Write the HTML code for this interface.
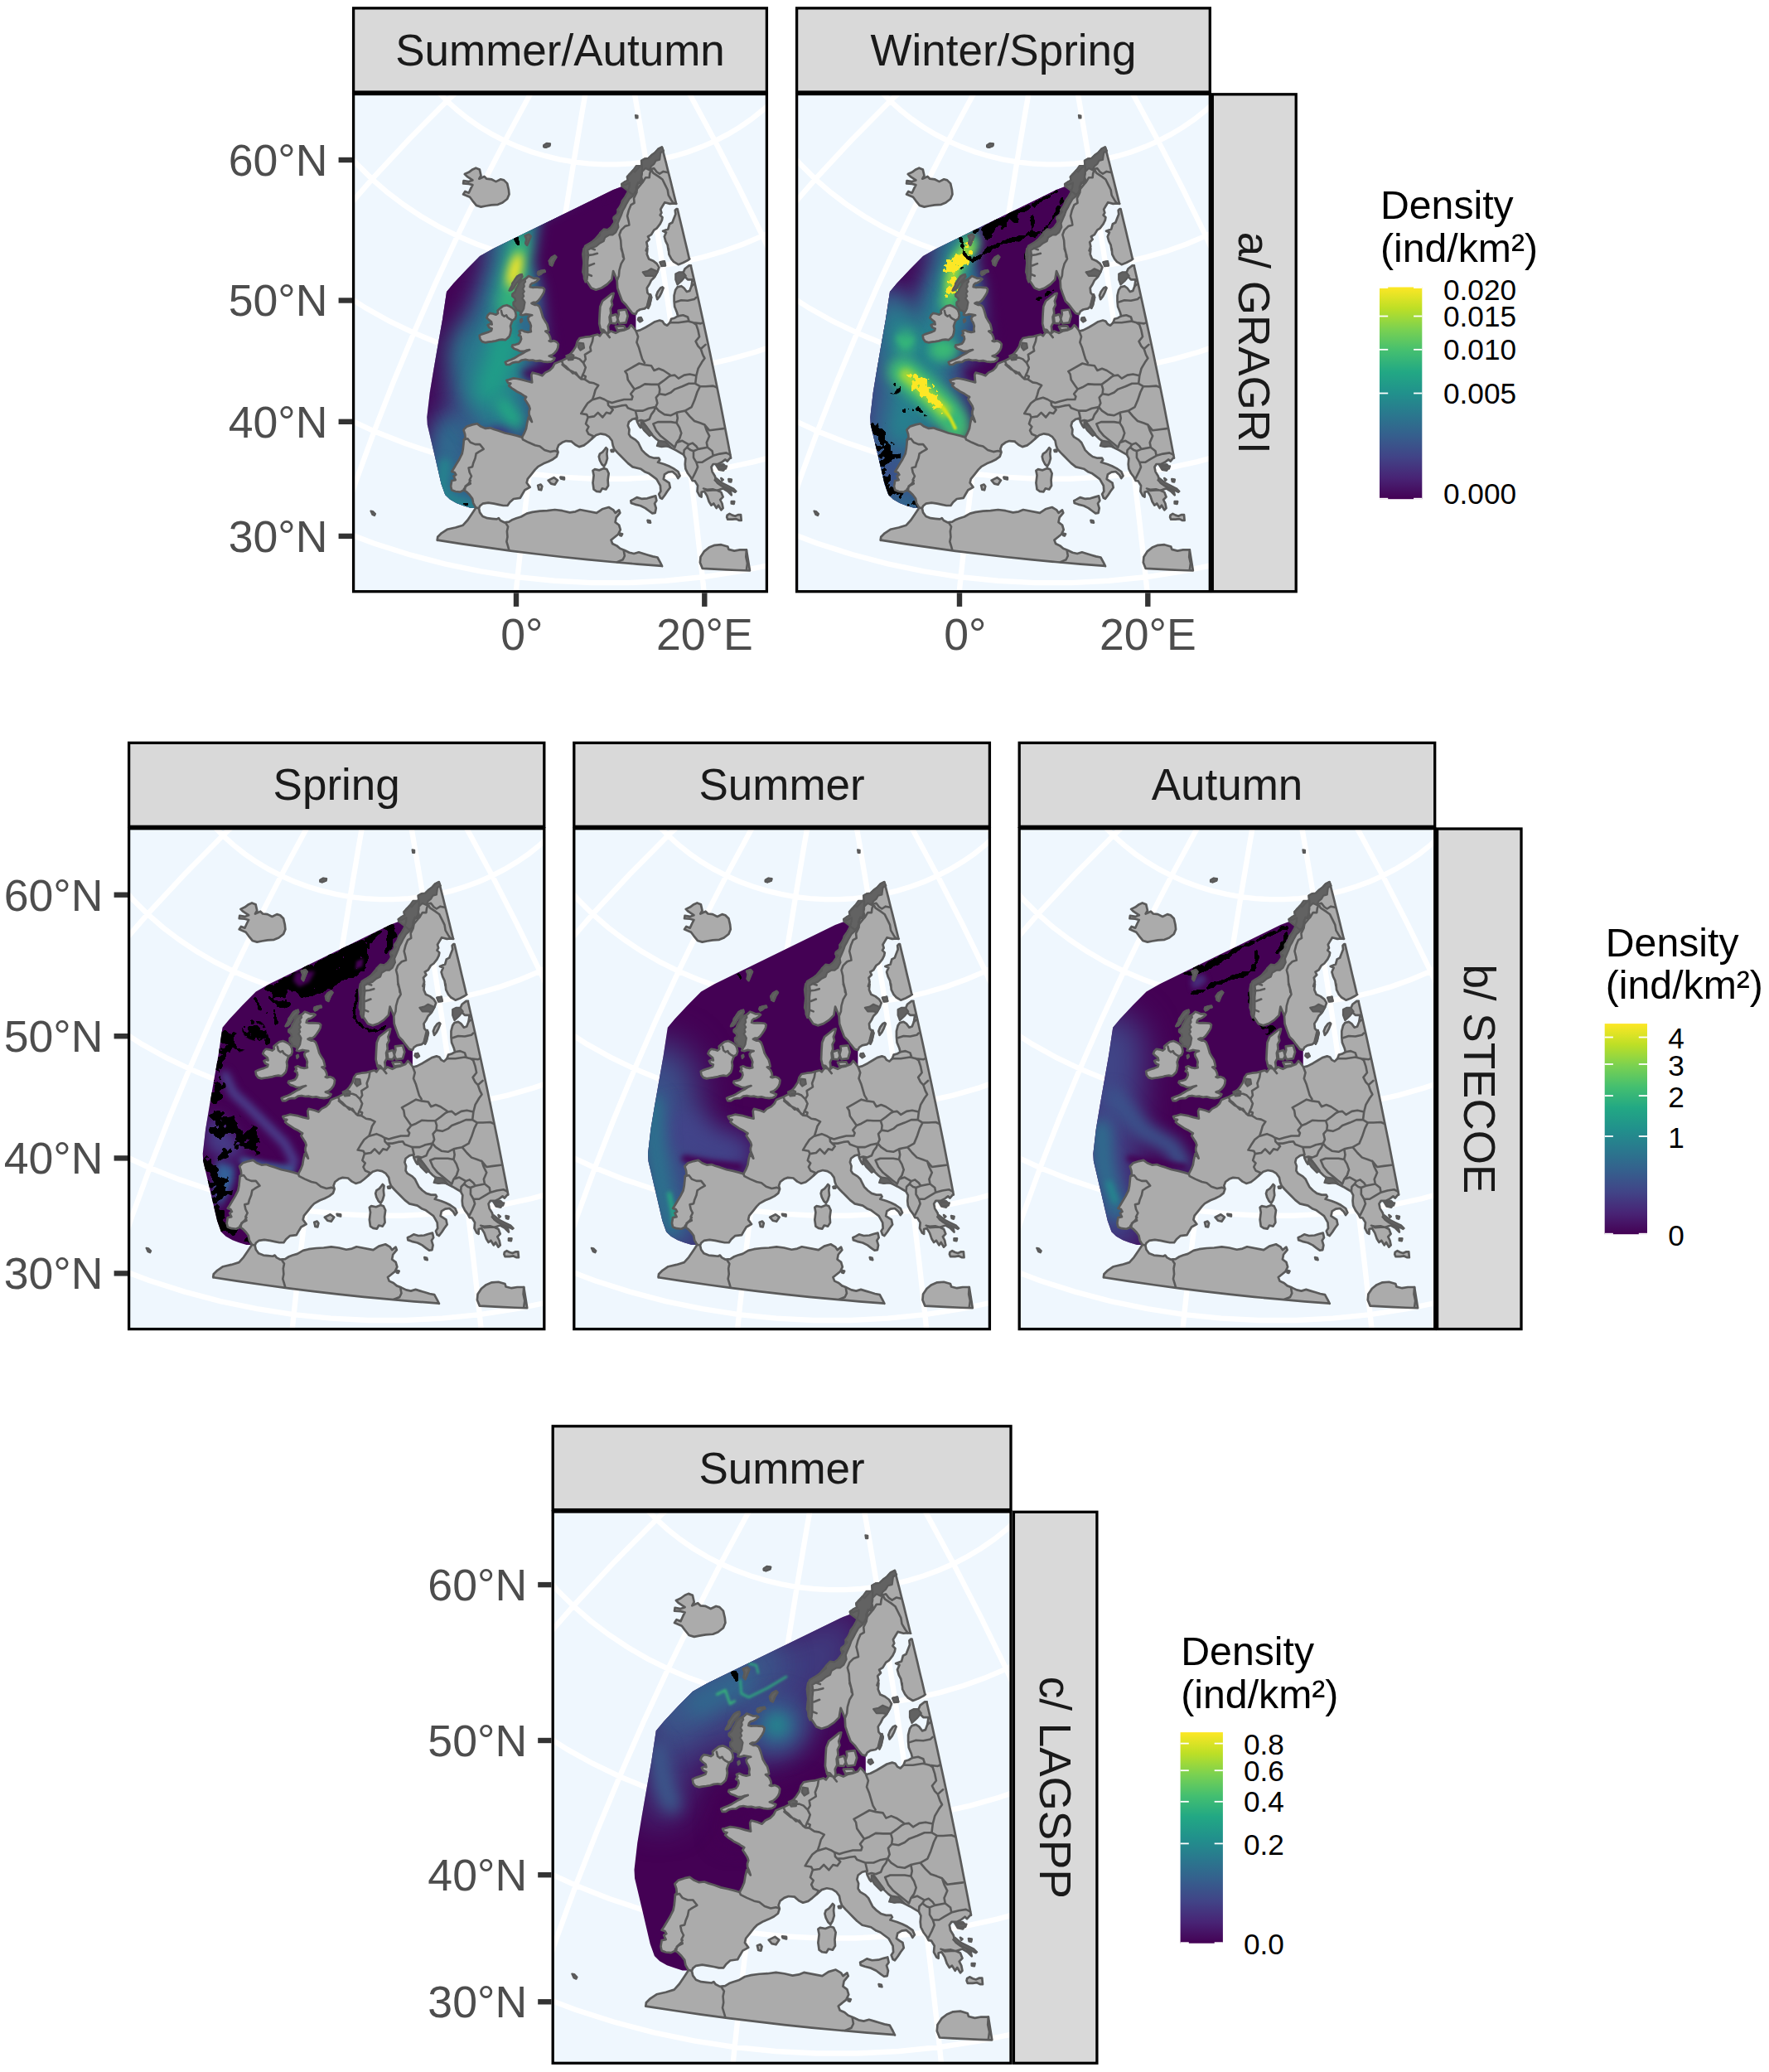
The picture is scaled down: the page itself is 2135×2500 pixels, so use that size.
<!DOCTYPE html><html><head><meta charset="utf-8"><title>Density maps</title><style>html,body{margin:0;padding:0;background:#fff}svg{display:block}text{font-family:"Liberation Sans",Arial,sans-serif}</style></head><body>
<svg width="2135" height="2500" viewBox="0 0 2135 2500">
<defs>
<path id="grat" d="M-567.3,-148.1 L-571.8,-92.1 L-571.8,-37.1 L-567.7,16.8 L-559.6,69.3 L-547.8,120.4 L-532.4,169.7 L-513.7,217.4 L-491.9,263.1 L-467.2,306.9 L-439.8,348.7 L-409.8,388.4 L-377.5,426 L-342.9,461.4 L-306.4,494.5 L-268,525.4 L-227.9,554.1 L-186.2,580.4 L-143.2,604.3 L-98.9,626 L-53.4,645.2 L-7,662.1 L40.3,676.6 L88.3,688.7 L136.9,698.4 L185.9,705.6 L235.2,710.5 L284.8,712.9 L334.4,712.9 L383.9,710.5 L433.3,705.6 L482.3,698.4 L530.8,688.7 L578.8,676.6 L626.1,662.1 L672.5,645.2 L718,626 L762.3,604.3 L805.4,580.4 L847,554.1 L887.1,525.4 L925.5,494.5 L962.1,461.4 L996.6,426 L1028.9,388.4 L1058.9,348.7 L1086.3,306.9 L1111,263.1 L1132.8,217.4 L1151.5,169.7 L1166.9,120.4 L1178.7,69.3 L1186.8,16.8 L1191,-37.1 L1190.9,-92.1 L1186.4,-148.1 M-450.4,-193 L-456.7,-144 L-459.2,-95.6 L-457.8,-48 L-452.8,-1.2 L-444.4,44.5 L-432.8,88.9 L-418,131.9 L-400.3,173.4 L-379.8,213.3 L-356.7,251.5 L-331.2,288 L-303.4,322.5 L-273.5,355.2 L-241.6,385.9 L-207.9,414.5 L-172.5,441.1 L-135.6,465.6 L-97.4,488 L-57.8,508.2 L-17.2,526.2 L24.4,542 L66.9,555.5 L110,566.9 L153.8,575.9 L198,582.8 L242.5,587.3 L287.2,589.6 L332,589.6 L376.7,587.3 L421.2,582.8 L465.4,575.9 L509.1,566.9 L552.3,555.5 L594.7,542 L636.3,526.2 L677,508.2 L716.5,488 L754.8,465.6 L791.7,441.1 L827.1,414.5 L860.8,385.9 L892.6,355.2 L922.6,322.5 L950.3,288 L975.9,251.5 L998.9,213.3 L1019.4,173.4 L1037.1,131.9 L1051.9,88.9 L1063.6,44.5 L1072,-1.2 L1076.9,-48 L1078.3,-95.6 L1075.9,-144 L1069.6,-193 M-328.4,-221.3 L-335.6,-180 L-339.5,-139 L-340.1,-98.4 L-337.5,-58.3 L-332,-19 L-323.6,19.5 L-312.4,56.9 L-298.5,93.2 L-282.1,128.2 L-263.4,161.8 L-242.4,194 L-219.4,224.6 L-194.3,253.6 L-167.4,281 L-138.9,306.6 L-108.7,330.4 L-77.1,352.4 L-44.2,372.4 L-10.1,390.6 L25,406.8 L61.1,421.1 L98,433.4 L135.5,443.6 L173.6,451.8 L212.2,458 L251,462.1 L290,464.2 L329.1,464.2 L368.1,462.1 L407,458 L445.5,451.8 L483.6,443.6 L521.2,433.4 L558,421.1 L594.1,406.8 L629.2,390.6 L663.3,372.4 L696.2,352.4 L727.8,330.4 L758,306.6 L786.6,281 L813.5,253.6 L838.5,224.6 L861.6,194 L882.6,161.8 L901.3,128.2 L917.6,93.2 L931.5,56.9 L942.7,19.5 L951.1,-19 L956.7,-58.3 L959.2,-98.4 L958.6,-139 L954.8,-180 L947.6,-221.3 M-202.8,-234.6 L-210,-201.5 L-214.4,-168.3 L-216.2,-135.3 L-215.5,-102.6 L-212.2,-70.4 L-206.5,-38.7 L-198.5,-7.7 L-188.2,22.5 L-175.8,51.7 L-161.3,79.9 L-144.8,106.9 L-126.6,132.8 L-106.6,157.4 L-84.9,180.6 L-61.8,202.3 L-37.2,222.7 L-11.4,241.4 L15.6,258.6 L43.7,274.2 L72.8,288.2 L102.6,300.5 L133.2,311 L164.5,319.9 L196.2,327 L228.3,332.3 L260.7,335.8 L293.3,337.6 L325.9,337.6 L358.4,335.8 L390.8,332.3 L423,327 L454.7,319.9 L485.9,311 L516.5,300.5 L546.4,288.2 L575.4,274.2 L603.5,258.6 L630.5,241.4 L656.4,222.7 L680.9,202.3 L704.1,180.6 L725.7,157.4 L745.7,132.8 L764,106.9 L780.4,79.9 L794.9,51.7 L807.3,22.5 L817.6,-7.7 L825.7,-38.7 L831.4,-70.4 L834.6,-102.6 L835.4,-135.3 L833.6,-168.3 L829.1,-201.5 L822,-234.6 M-75,-234.3 L-81.3,-209.5 L-85.6,-184.5 L-87.9,-159.6 L-88.3,-134.7 L-86.7,-110.1 L-83.2,-85.8 L-77.9,-61.9 L-70.9,-38.5 L-62.1,-15.8 L-51.7,6.2 L-39.7,27.4 L-26.2,47.7 L-11.3,67 L5,85.4 L22.4,102.6 L41.1,118.8 L60.8,133.7 L81.5,147.5 L103.1,160 L125.5,171.1 L148.6,181 L172.3,189.5 L196.6,196.6 L221.2,202.3 L246.2,206.6 L271.5,209.5 L296.9,210.9 L322.3,210.9 L347.7,209.5 L372.9,206.6 L397.9,202.3 L422.6,196.6 L446.8,189.5 L470.5,181 L493.7,171.1 L516,160 L537.6,147.5 L558.3,133.7 L578.1,118.8 L596.7,102.6 L614.2,85.4 L630.4,67 L645.3,47.7 L658.8,27.4 L670.8,6.2 L681.2,-15.8 L690,-38.5 L697.1,-61.9 L702.4,-85.8 L705.8,-110.1 L707.4,-134.7 L707.1,-159.6 L704.8,-184.5 L700.5,-209.5 L694.2,-234.3 M53.8,-221.3 L49,-204.9 L45.6,-188.3 L43.4,-171.6 L42.6,-154.9 L43.1,-138.3 L44.8,-121.8 L47.9,-105.6 L52.1,-89.6 L57.6,-74 L64.2,-58.9 L71.9,-44.2 L80.7,-30.1 L90.5,-16.6 L101.2,-3.8 L112.9,8.3 L125.4,19.6 L138.8,30.2 L152.8,39.9 L167.5,48.7 L182.8,56.6 L198.6,63.6 L214.9,69.7 L231.6,74.7 L248.6,78.8 L265.8,81.9 L283.3,83.9 L300.8,84.9 L318.4,84.9 L335.9,83.9 L353.3,81.9 L370.6,78.8 L387.6,74.7 L404.2,69.7 L420.5,63.6 L436.3,56.6 L451.6,48.7 L466.3,39.9 L480.4,30.2 L493.7,19.6 L506.2,8.3 L517.9,-3.8 L528.7,-16.6 L538.5,-30.1 L547.3,-44.2 L555,-58.9 L561.6,-74 L567,-89.6 L571.3,-105.6 L574.3,-121.8 L576.1,-138.3 L576.5,-154.9 L575.7,-171.6 L573.6,-188.3 L570.1,-204.9 L565.3,-221.3 M182.4,-196.6 L179.7,-188.5 L177.7,-180.2 L176.4,-171.9 L175.7,-163.6 L175.6,-155.2 L176.2,-146.9 L177.5,-138.6 L179.4,-130.5 L181.9,-122.5 L185,-114.7 L188.7,-107.2 L192.9,-99.9 L197.7,-92.8 L203.1,-86.2 L208.9,-79.8 L215.2,-73.9 L221.9,-68.3 L229,-63.2 L236.5,-58.5 L244.3,-54.3 L252.4,-50.6 L260.7,-47.4 L269.3,-44.7 L278.1,-42.6 L287,-40.9 L296,-39.8 L305,-39.3 L314.1,-39.3 L323.2,-39.8 L332.2,-40.9 L341.1,-42.6 L349.8,-44.7 L358.4,-47.4 L366.8,-50.6 L374.9,-54.3 L382.7,-58.5 L390.1,-63.2 L397.3,-68.3 L404,-73.9 L410.2,-79.8 L416.1,-86.2 L421.4,-92.8 L426.2,-99.9 L430.5,-107.2 L434.2,-114.7 L437.3,-122.5 L439.8,-130.5 L441.7,-138.6 L442.9,-146.9 L443.5,-155.2 L443.5,-163.6 L442.8,-171.9 L441.4,-180.2 L439.4,-188.5 L436.8,-196.6 M-677.2,-84.5 L-623.2,-118.8 L-567.3,-148.1 L-509.6,-172.7 L-450.4,-193 L-390,-209.1 L-328.4,-221.3 L-266,-229.7 L-202.8,-234.6 L-139.1,-236.1 L-75,-234.3 L-10.7,-229.3 L53.8,-221.3 L118.2,-210.3 L182.4,-196.6 L246.2,-180 L309.6,-160.8 M-639.9,209.4 L-595.4,163.2 L-547.8,120.4 L-497.4,80.8 L-444.4,44.5 L-389.2,11.2 L-332,-19 L-272.9,-46.1 L-212.2,-70.4 L-150.1,-91.7 L-86.7,-110.1 L-22.2,-125.6 L43.1,-138.3 L109.1,-148.2 L175.6,-155.2 L242.5,-159.4 L309.6,-160.8 M-510.9,453 L-476.9,400 L-439.8,348.7 L-399.6,299.2 L-356.7,251.5 L-311.3,205.7 L-263.4,161.8 L-213.4,119.9 L-161.3,79.9 L-107.3,42 L-51.7,6.2 L5.6,-27.5 L64.2,-58.9 L124,-88 L185,-114.7 L246.9,-139 L309.6,-160.8 M-318.1,638.6 L-294.4,581.8 L-268,525.4 L-239.1,469.7 L-207.9,414.5 L-174.4,360.1 L-138.9,306.6 L-101.3,253.9 L-61.8,202.3 L-20.5,151.9 L22.4,102.6 L66.9,54.7 L112.9,8.3 L160.3,-36.6 L208.9,-79.8 L258.7,-121.3 L309.6,-160.8 M-83.1,763.1 L-69.1,704.4 L-53.4,645.2 L-36.1,585.8 L-17.2,526.2 L3.2,466.5 L25,406.8 L48.2,347.4 L72.8,288.2 L98.5,229.4 L125.5,171.1 L153.6,113.5 L182.8,56.6 L213,0.6 L244.3,-54.3 L276.5,-108.2 L309.6,-160.8 M176.1,825.6 L180.7,766 L185.9,705.6 L191.7,644.5 L198,582.8 L204.8,520.6 L212.2,458 L220,395.2 L228.3,332.3 L237.1,269.4 L246.2,206.6 L255.8,144 L265.8,81.9 L276.2,20.2 L287,-40.9 L298.1,-101.3 L309.6,-160.8 M443.1,825.6 L438.5,766 L433.3,705.6 L427.5,644.5 L421.2,582.8 L414.3,520.6 L407,458 L399.1,395.2 L390.8,332.3 L382.1,269.4 L372.9,206.6 L363.3,144 L353.3,81.9 L342.9,20.2 L332.2,-40.9 L321,-101.3 L309.6,-160.8 M702.2,763.1 L688.2,704.4 L672.5,645.2 L655.2,585.8 L636.3,526.2 L615.9,466.5 L594.1,406.8 L570.9,347.4 L546.4,288.2 L520.6,229.4 L493.7,171.1 L465.5,113.5 L436.3,56.6 L406.1,0.6 L374.9,-54.3 L342.7,-108.2 L309.6,-160.8 M937.2,638.6 L913.5,581.8 L887.1,525.4 L858.3,469.7 L827.1,414.5 L793.6,360.1 L758,306.6 L720.4,253.9 L680.9,202.3 L639.6,151.9 L596.7,102.6 L552.2,54.7 L506.2,8.3 L458.9,-36.6 L410.2,-79.8 L360.5,-121.3 L309.6,-160.8 M1130.1,453 L1096.1,400 L1058.9,348.7 L1018.8,299.2 L975.9,251.5 L930.4,205.7 L882.6,161.8 L832.5,119.9 L780.4,79.9 L726.5,42 L670.8,6.2 L613.6,-27.5 L555,-58.9 L495.1,-88 L434.2,-114.7 L372.3,-139 L309.6,-160.8 M1259,209.4 L1214.5,163.2 L1166.9,120.4 L1116.5,80.8 L1063.6,44.5 L1008.4,11.2 L951.1,-19 L892.1,-46.1 L831.4,-70.4 L769.2,-91.7 L705.8,-110.1 L641.4,-125.6 L576.1,-138.3 L510.1,-148.2 L443.5,-155.2 L376.6,-159.4 L309.6,-160.8 M1296.3,-84.5 L1242.4,-118.8 L1186.4,-148.1 L1128.7,-172.7 L1069.6,-193 L1009.1,-209.1 L947.6,-221.3 L885.1,-229.7 L822,-234.6 L758.3,-236.1 L694.2,-234.3 L629.8,-229.3 L565.3,-221.3 L500.9,-210.3 L436.8,-196.6 L372.9,-180 L309.6,-160.8" fill="none" stroke="#fff" stroke-width="6.4" stroke-linecap="butt" vector-effect="non-scaling-stroke"/>
<g id="land"><path d="M407.4,206.9 405.1,206.9 400.0,210.8 397.8,215.9 400.0,220.4 403.4,223.8 409.1,223.8 407.9,231.7 405.7,237.4 402.3,238.5 398.9,234.0 395.5,231.7 391.0,232.9 388.7,236.2 387.0,243.0 387.0,249.8 387.6,256.6 390.4,263.4 391.5,267.9 387.6,270.2 383.6,271.3 381.9,275.8 378.5,279.2 375.2,277.5 372.9,274.1 369.5,273.0 363.8,274.7 358.2,278.1 352.5,281.5 345.8,284.9 341.2,286.0 337.8,281.5 335.0,278.6 332.2,282.6 326.5,284.9 320.9,286.0 316.4,288.3 310.7,286.0 307.3,288.3 307.9,284.9 307.3,280.3 309.6,275.8 309.0,269.0 310.7,264.5 310.1,258.9 312.4,254.3 311.3,249.8 313.0,245.3 314.1,240.2 311.8,240.8 306.2,245.3 300.5,249.8 297.7,256.6 297.1,265.6 296.6,276.9 298.8,286.0 301.0,287.3 299.2,289.1 297.4,291.8 294.7,290.0 289.3,291.4 284.8,292.7 279.3,293.2 273.0,294.5 270.3,298.2 268.5,304.5 264.9,309.9 260.3,315.3 256.7,319.0 251.3,321.7 246.8,323.5 242.7,325.3 240.4,329.8 236.8,333.4 231.4,336.1 227.8,339.8 223.2,338.0 216.0,336.1 214.7,338.9 215.1,343.4 215.6,347.9 209.1,346.3 203.4,344.6 197.8,343.5 193.2,342.9 187.6,344.6 184.8,345.2 186.5,348.5 189.8,349.1 187.6,351.9 191.0,354.8 194.4,357.0 197.8,359.3 202.3,361.5 205.7,363.8 208.5,365.5 206.8,368.3 209.1,371.7 211.9,376.2 213.0,379.6 211.9,383.0 211.9,386.4 214.2,392.1 215.3,395.5 211.3,389.8 209.6,396.6 208.5,403.4 206.2,409.0 203.4,414.1 197.8,412.4 191.0,410.7 183.1,409.0 175.2,406.2 169.5,404.5 165.0,402.8 159.3,403.4 153.7,401.1 149.1,397.7 143.5,398.9 136.7,401.1 132.8,405.1 134.5,410.2 135.0,414.7 133.3,416.9 132.8,422.6 132.2,428.3 131.1,433.9 127.7,440.7 124.3,446.3 120.9,452.0 118.6,455.4 122.0,456.5 123.7,459.3 120.9,461.0 123.1,465.6 118.6,466.5 117.5,473.3 118.6,477.8 123.1,479.5 128.8,480.1 133.3,477.8 136.7,480.1 140.1,483.5 143.5,488.0 144.6,493.6 147.5,498.7 151.4,499.9 152.5,497.0 155.9,494.2 162.7,493.1 169.5,494.2 175.2,495.3 180.8,496.5 185.9,496.5 188.7,492.5 193.2,488.5 201.2,487.4 203.4,483.5 206.8,477.8 213.0,474.4 209.1,469.0 210.2,464.4 214.7,458.8 219.2,453.1 222.6,449.7 229.4,445.8 235.1,443.5 240.7,440.7 245.2,437.3 246.9,432.2 245.8,428.3 247.5,423.7 252.0,420.3 256.6,418.6 263.3,419.2 263.4,419.4 267.9,423.3 272.4,425.6 278.1,423.9 282.6,420.5 287.7,416.0 292.8,411.5 298.4,409.8 304.1,410.9 308.6,413.7 312.0,418.3 313.1,423.9 314.8,428.4 318.8,432.9 322.2,436.3 326.7,440.9 331.2,445.4 336.9,449.9 346.5,452.2 352.2,456.1 356.7,457.8 361.2,461.2 365.8,464.6 370.3,472.5 370.8,479.3 368.6,482.7 370.3,487.2 372.5,488.3 375.9,483.8 378.8,479.3 382.2,474.8 381.0,469.1 377.6,466.9 374.2,464.6 375.4,458.9 379.9,456.1 385.0,455.5 389.5,459.5 391.8,463.5 394.0,460.6 391.8,455.5 386.1,451.6 380.5,448.8 374.8,446.5 367.4,444.3 369.7,441.4 368.5,439.2 362.9,439.2 357.2,437.5 352.7,434.1 348.2,429.6 345.9,425.0 343.7,420.5 340.3,417.1 334.6,413.7 332.4,410.3 332.9,404.7 331.2,400.2 332.4,395.6 336.9,392.2 341.4,391.1 342.5,395.6 344.8,400.2 346.5,402.4 347.6,397.9 349.3,395.6 352.7,400.2 356.1,405.8 360.6,411.5 365.2,416.0 369.7,419.4 367.4,423.9 371.9,425.0 377.6,423.9 383.2,426.7 388.9,429.6 394.5,432.9 398.5,435.2 400.8,439.7 400.2,446.5 400.8,452.2 403.6,457.8 407.0,462.3 409.2,466.5 412.1,466.9 415.5,472.5 414.9,479.3 417.8,484.9 420.0,486.1 420.0,480.4 423.4,479.3 426.8,484.9 429.1,491.7 431.9,496.2 434.7,494.0 438.1,499.6 440.4,496.2 443.8,501.9 446.0,499.6 444.9,494.0 442.6,489.5 446.0,486.1 443.8,480.4 439.2,478.2 446.0,475.9 451.7,479.3 456.2,483.8 455.1,479.3 449.4,474.8 443.8,472.5 439.2,469.1 437.5,466.5 436.4,461.2 433.0,455.6 431.9,449.9 434.1,446.5 439.8,446.5 444.3,444.3 448.8,440.9 451.1,443.1 454.5,439.2 455.5,439.2 451.5,418.0 447.4,396.9 443.3,375.8 439.0,354.6 434.7,333.5 430.3,312.3 425.8,291.2 421.2,270.1 416.6,249.0 411.9,227.9 407.1,206.9Z M372.3,64.0 367.8,66.3 363.8,70.8 359.9,73.6 355.9,77.6 351.4,78.2 347.5,80.4 348.0,85.5 343.5,89.5 339.5,94.0 337.3,92.3 334.5,96.2 330.5,99.6 331.1,104.2 327.7,105.9 323.7,108.7 324.3,111.5 333.3,108.1 335.0,114.3 331.1,118.9 327.7,124.5 324.3,129.0 323.1,134.7 319.2,139.2 318.6,147.1 314.1,149.9 315.2,155.0 312.4,159.6 307.3,166.3 302.8,164.1 297.7,168.0 291.5,175.4 284.7,181.0 279.1,186.7 277.9,186.5 276.8,193.3 277.9,203.5 276.8,214.8 280.2,223.8 287.0,234.0 292.6,236.2 299.4,234.0 306.2,229.5 311.8,223.8 313.5,213.6 316.4,220.4 318.1,224.9 318.6,234.0 320.9,240.8 324.3,249.8 328.8,254.3 332.2,258.9 336.7,264.5 340.7,265.6 342.4,262.2 345.8,260.0 351.4,258.9 354.2,256.6 355.9,249.8 357.6,243.0 354.8,239.6 354.2,234.0 357.1,229.5 359.3,224.9 362.7,221.5 367.2,213.6 368.9,209.1 366.1,204.6 361.6,201.2 356.5,198.9 354.2,193.3 354.8,186.5 353.1,189.0 354.8,183.9 353.7,178.8 357.1,175.4 355.4,172.0 359.3,169.7 362.7,164.1 366.1,161.8 370.1,156.7 372.3,152.2 372.9,148.8 370.1,146.0 371.8,143.2 370.6,139.2 372.9,135.3 375.7,130.7 381.9,132.4 386.5,131.9 389.8,132.4 389.5,132.4 387.1,122.6 384.7,112.8 382.3,103.0 379.8,93.3 377.4,83.5 374.9,73.8 372.4,64.0Z M389.8,138.6 388.2,140.3 388.7,144.9 386.5,150.5 384.8,155.0 381.4,156.7 379.7,162.9 373.5,165.2 377.4,166.9 375.2,172.0 376.8,177.6 379.1,182.2 380.2,189.0 380.2,186.5 380.8,193.3 383.6,198.9 386.5,202.3 392.1,205.7 397.8,203.5 403.4,200.6 405.7,198.9 405.3,198.9 402.5,186.8 399.6,174.8 396.8,162.7 393.9,150.7 391.0,138.6Z M101.1,538.3 101.7,534.3 106.2,529.8 113.0,525.3 123.1,523.0 132.2,520.2 137.8,514.0 142.4,507.2 146.9,500.4 147.5,498.7 151.4,499.9 152.5,504.9 155.9,509.5 161.6,511.7 167.2,512.3 172.9,512.9 175.2,511.7 177.4,514.5 181.9,516.8 187.6,516.2 192.1,513.4 196.6,511.7 202.3,510.0 209.1,506.1 215.9,504.4 224.9,503.2 233.9,502.7 243.0,501.5 252.0,502.7 261.1,504.9 267.9,503.8 273.4,501.5 293.4,505.3 300.2,500.8 308.1,498.5 313.8,501.9 316.0,505.3 320.5,501.9 321.7,505.3 317.1,510.9 316.0,516.6 320.5,520.0 322.2,525.6 319.4,531.3 313.8,535.8 310.9,538.1 312.6,542.6 317.7,544.9 321.7,548.3 327.3,550.5 333.0,553.3 338.6,554.5 344.3,552.8 349.9,554.5 355.6,556.2 361.2,557.9 366.9,559.0 370.3,565.2 372.5,569.7 372.5,569.4 342.4,567.1 312.2,564.5 282.1,561.7 251.9,558.5 221.7,555.0 191.6,551.3 161.4,547.2 131.3,542.9 101.1,538.2Z M418.3,565.2 418.9,558.4 423.4,551.6 429.1,547.1 435.9,544.3 443.8,543.7 451.7,546.0 452.8,549.4 459.6,551.1 466.4,549.9 474.3,549.9 478.3,574.8 478.3,575.0 464.0,574.5 449.7,573.9 435.4,573.2 421.2,572.4Z M147.7,89.2 152.2,90.9 153.9,98.3 151.7,102.2 157.9,99.4 160.7,102.2 166.4,102.8 172.0,105.6 177.7,102.8 181.6,103.9 185.6,107.9 187.3,115.2 187.9,120.9 185.6,126.5 179.9,131.0 174.3,133.3 166.4,133.9 159.6,135.0 153.9,136.1 148.3,134.4 143.8,128.8 140.4,124.3 132.5,120.9 134.7,117.5 139.2,119.2 141.5,114.1 143.8,109.6 139.2,108.4 132.5,107.9 133.0,104.5 139.2,105.6 143.8,103.9 137.0,99.4 134.2,96.6 139.2,94.3 143.8,90.9Z M211.2,219.6 214.3,220.8 218.1,222.4 222.1,222.1 224.0,223.3 221.2,225.8 218.1,227.7 215.6,228.3 213.7,230.2 213.1,232.6 216.2,233.3 219.9,233.0 224.3,233.3 228.6,233.6 230.5,235.4 229.9,238.9 228.0,242.6 225.5,246.3 223.0,249.4 220.5,251.3 217.4,251.3 214.9,252.5 218.7,254.4 221.8,254.4 224.3,256.3 226.1,260.6 227.4,265.0 228.6,269.3 231.1,273.7 233.6,277.4 234.8,281.8 235.5,285.5 231.7,286.1 235.5,289.2 237.3,293.0 238.0,296.7 236.1,297.9 238.0,298.6 241.7,297.6 245.4,299.2 247.3,301.7 246.7,306.0 245.4,309.1 242.9,312.2 239.8,314.7 236.1,316.0 239.2,317.2 242.9,318.5 241.7,321.0 238.6,322.8 234.2,323.4 229.2,322.8 224.9,321.6 220.5,322.2 216.2,321.0 211.8,321.3 207.5,320.3 203.1,321.0 199.4,323.4 195.7,323.4 191.9,324.1 188.2,326.5 184.5,326.5 183.2,323.4 187.0,321.6 190.7,320.3 194.4,318.5 197.5,316.6 200.6,314.7 204.4,312.9 208.1,310.4 212.5,308.5 209.3,309.1 205.6,310.4 201.3,310.4 197.5,308.5 193.8,307.3 191.3,304.8 191.9,302.9 195.7,302.3 199.4,301.1 201.3,298.6 202.5,295.5 201.9,292.3 199.4,291.1 201.3,288.6 200.0,286.1 203.1,284.9 206.9,286.7 210.6,287.4 214.3,286.7 213.7,283.6 214.3,279.9 213.1,276.2 211.2,273.1 210.6,270.0 213.1,267.5 215.6,266.8 211.8,266.2 208.1,265.6 204.4,266.8 201.3,266.2 202.5,263.7 200.0,261.3 196.9,260.6 195.7,257.5 193.2,255.0 193.2,251.3 195.7,249.4 195.0,246.3 191.9,243.8 191.9,241.4 195.0,238.9 196.3,235.1 198.2,232.0 200.0,228.3 203.1,225.2 206.9,223.3 209.3,221.5Z M177.6,258.1 180.7,255.7 185.1,254.7 188.8,256.3 191.9,258.1 194.4,260.6 195.7,263.7 196.3,267.5 195.0,271.2 191.9,273.1 190.7,276.2 189.4,279.9 190.1,284.3 189.4,288.6 188.2,292.3 185.7,294.8 183.2,296.7 179.5,296.1 175.1,296.7 171.4,297.9 167.1,298.6 162.7,299.2 159.0,299.8 155.2,298.6 152.8,295.5 152.1,291.1 154.6,289.9 158.4,288.6 162.1,287.4 166.4,285.5 167.1,283.0 163.9,281.8 162.1,278.7 164.6,277.4 167.1,278.0 166.4,274.9 163.3,272.4 160.8,270.0 162.1,266.8 164.6,264.4 168.3,265.0 172.0,266.2 174.5,264.4 173.9,261.3Z M203.1,217.7 200.6,218.3 197.5,220.2 195.7,222.7 193.8,225.8 191.9,228.3 191.3,231.4 189.4,234.5 188.2,237.0 190.7,236.4 193.2,233.9 195.0,230.8 196.9,227.7 199.4,225.2 201.9,222.7 203.7,220.2Z M223.0,214.6 226.1,213.4 230.5,212.7 231.1,214.3 228.0,215.2 226.1,217.1 223.6,218.3 222.4,216.5Z M243.0,195.0 244.7,196.7 241.9,201.2 239.6,206.9 237.3,205.7 236.2,201.2 239.0,197.2Z M229.8,61.9 233.2,59.7 237.2,60.2 236.6,62.5 232.1,64.2 229.8,63.6Z M207.2,171.0 211.8,169.3 214.0,171.6 211.8,176.7 209.5,182.3 207.8,180.1 208.9,175.0Z M372.9,232.9 370.6,234.0 367.2,238.5 365.5,243.0 366.7,247.6 369.5,244.2 371.8,239.6 374.0,234.0Z M370.1,202.9 375.2,201.8 376.3,206.9 371.8,207.4Z M344.1,270.2 346.9,269.6 348.6,273.0 345.8,274.7 343.5,272.4Z M310.1,267.9 316.9,265.6 319.2,272.4 316.9,276.9 311.3,276.4Z M319.8,261.1 328.8,260.0 331.1,267.9 328.8,275.8 320.9,276.9 318.6,271.3 320.3,265.6Z M316.4,280.3 326.5,279.8 328.8,283.7 318.6,284.9Z M358.4,241.9 359.6,245.3 357.6,254.3 355.7,258.3 355.0,254.3 356.8,247.6Z M235.1,466.1 241.9,462.7 246.4,466.1 243.0,471.2 238.5,470.1Z M249.8,462.2 254.3,462.7 254.3,465.0 250.3,463.9Z M222.6,472.2 226.0,471.0 227.7,473.3 226.6,477.8 223.8,477.2Z M304.7,426.7 306.4,428.4 305.8,434.1 306.4,439.7 304.7,445.4 302.4,449.3 299.6,446.5 297.3,442.0 296.2,437.5 297.3,434.1 300.7,431.8 303.0,429.0Z M310.9,429.6 314.3,429.0 313.7,431.3 311.4,431.3Z M364.6,484.9 365.8,490.6 363.5,494.0 365.2,499.6 364.1,505.3 360.7,505.9 356.7,503.0 352.2,499.6 346.5,496.8 339.8,495.1 335.2,493.4 334.7,490.6 338.1,488.9 342.0,486.6 347.7,488.3 354.5,487.8 360.1,486.1Z M355.0,514.3 357.8,514.9 358.4,517.2 355.6,516.6Z M322.2,530.2 324.5,530.7 323.4,533.0 321.7,532.4Z M451.1,508.1 453.9,506.4 457.3,508.1 460.7,509.2 464.1,507.6 467.5,507.6 468.1,514.3 465.2,514.3 461.9,512.6 457.3,513.2 451.7,513.2 450.6,510.4Z M302.4,451.6 305.8,452.7 308.1,457.8 307.0,465.7 307.5,472.5 304.7,477.0 300.2,475.9 297.9,479.9 293.4,479.3 290.0,477.0 288.9,469.1 290.0,460.1 288.9,454.4 291.1,452.7 296.8,453.8Z M452.8,464.6 456.2,465.2 455.6,468.0 453.4,467.4Z M456.2,491.7 459.6,491.7 459.0,494.5 456.2,494.0Z M443.8,463.5 446.0,465.2 444.9,466.3Z" fill="#ababab" stroke="#5a5a5a" stroke-width="2.7" stroke-linejoin="round" fill-rule="evenodd" vector-effect="non-scaling-stroke"/><path d="M372.3,64.0 367.8,66.3 363.8,70.8 359.9,73.6 355.9,77.6 351.4,78.2 347.5,80.4 348.0,85.5 343.5,89.5 339.5,94.0 337.3,92.3 334.5,96.2 330.5,99.6 331.1,104.2 327.7,105.9 323.7,108.7 324.3,111.5 336.7,121.1 341.8,118.9 341.2,112.1 343.5,106.4 346.9,108.1 349.1,105.3 347.5,99.6 348.0,94.0 352.5,89.5 357.1,91.7 359.3,87.2 362.7,84.4 365.0,80.4 369.5,79.3 370.6,70.8 374.4,68.5 372.3,64.0Z M341.4,86.5 337.5,91.9 332.9,96.5 330.2,100.4 331.4,104.3 327.5,105.8 323.6,109.3 327.5,109.7 333.3,107.0 332.9,112.0 330.6,118.9 328.3,123.6 325.2,128.2 322.9,132.8 320.9,136.7 318.6,139.8 320.5,142.1 317.5,145.2 314.0,148.3 313.6,150.6 316.7,152.1 312.8,157.5 310.5,160.6 306.6,163.7 302.0,162.9 297.4,167.6 297.4,170.7 292.7,174.5 288.9,177.6 283.5,180.7 279.6,183.0 278.1,186.9 278.8,194.6 278.1,202.3 278.8,210.1 278.1,217.8 278.1,222.4 280.0,227.0 281.9,224.0 282.7,217.8 282.7,210.1 282.7,202.3 283.5,194.6 282.7,188.4 286.6,186.1 292.7,183.8 297.4,179.9 302.0,177.6 303.6,173.0 309.0,169.9 312.8,169.9 316.7,166.8 319.8,160.6 319.0,156.0 321.3,150.6 323.6,145.2 325.2,140.6 327.5,136.7 329.8,132.1 332.9,126.7 337.5,122.8 340.6,117.4 342.9,109.7 346.8,104.3 348.3,96.5 348.3,86.5Z M206.9,223.3 203.1,225.2 200.0,228.3 198.2,232.0 196.3,235.1 195.0,238.9 191.9,241.4 191.9,243.8 195.0,246.3 195.7,249.4 193.2,251.3 193.2,255.0 195.7,257.5 196.9,260.6 200.0,261.3 202.5,263.7 204.4,261.3 205.6,258.8 206.2,255.0 206.9,251.3 205.6,248.8 203.7,246.3 205.6,243.8 204.4,240.7 206.2,238.2 204.4,235.1 206.2,232.0 205.6,228.9 207.5,226.4 206.9,223.9 209.3,221.5Z M388.7,217.0 393.2,214.8 397.8,214.8 401.2,219.3 396.6,224.9 391.0,230.0 388.7,223.8Z M349.1,214.8 354.8,213.6 359.3,210.8 367.2,214.2 363.8,220.4 359.3,219.3 352.5,219.3Z M347.1,395.6 353.8,401.3 360.6,410.3 357.2,412.6 350.5,405.8 347.1,400.2Z M368.5,418.3 376.5,419.4 383.2,426.2 377.6,425.0 371.9,425.6 366.3,424.5Z M437.5,447.6 446.6,446.5 449.9,449.9 446.6,454.4 440.9,453.3Z M438.1,463.5 444.9,469.1 451.7,472.5 458.5,475.9 461.9,479.3 460.7,480.4 453.9,477.0 446.0,473.6 439.2,469.1 435.9,465.7Z M440.4,448.8 450.6,448.8 449.4,452.2 441.5,452.2Z M422.3,475.9 426.8,477.0 433.6,476.5 439.2,478.2 433.6,478.2 426.8,478.7Z M256.7,315.8 262.1,313.5 265.8,315.3 264.9,320.3 259.4,320.8Z M272.1,300.0 277.5,300.9 278.4,306.3 273.9,309.0 271.2,305.4Z M358.4,241.9 359.6,245.3 357.6,254.3 355.7,258.3 355.0,254.3 356.8,247.6Z M203.1,217.7 200.6,218.3 197.5,220.2 195.7,222.7 193.8,225.8 191.9,228.3 191.3,231.4 189.4,234.5 188.2,237.0 190.7,236.4 193.2,233.9 195.0,230.8 196.9,227.7 199.4,225.2 201.9,222.7 203.7,220.2Z M223.0,214.6 226.1,213.4 230.5,212.7 231.1,214.3 228.0,215.2 226.1,217.1 223.6,218.3 222.4,216.5Z M243.0,195.0 244.7,196.7 241.9,201.2 239.6,206.9 237.3,205.7 236.2,201.2 239.0,197.2Z M207.2,171.0 211.8,169.3 214.0,171.6 211.8,176.7 209.5,182.3 207.8,180.1 208.9,175.0Z M229.8,61.9 233.2,59.7 237.2,60.2 236.6,62.5 232.1,64.2 229.8,63.6Z M20.9,503.0 23.4,503.5 26.4,506.5 25.4,508.5 22.9,507.5Z M340.4,25.5 342.9,26.0 342.9,29.0 340.9,29.0Z M370.1,202.9 375.2,201.8 376.3,206.9 371.8,207.4Z M344.1,270.2 346.9,269.6 348.6,273.0 345.8,274.7 343.5,272.4Z M201.3,272.4 203.1,271.2 203.7,273.7 201.9,275.6Z" fill="#626262" stroke="#5a5a5a" stroke-width="2.2" stroke-linejoin="round" vector-effect="non-scaling-stroke"/><path d="M359.3,90.6 362.7,89.5 366.1,94.0 369.5,96.2 374.0,93.4 379.1,94.5 M359.3,90.6 361.6,95.1 368.4,99.6 372.9,103.0 376.3,109.8 379.1,115.5 380.2,122.2 383.6,127.9 386.5,131.9 M359.3,90.6 357.6,96.2 357.1,100.8 352.5,100.8 349.1,106.4 347.5,108.1 342.4,114.3 341.2,120.0 338.4,125.6 339.0,131.3 335.0,133.6 332.2,140.3 330.5,147.1 332.2,153.9 332.8,157.9 327.7,159.6 323.1,164.1 320.9,169.7 322.6,176.5 323.1,184.4 324.8,191.2 325.4,196.5 M323.1,186.5 325.4,193.3 326.5,198.9 323.1,204.6 320.9,212.5 320.3,219.3 318.6,223.8 M341.2,286.6 343.5,292.8 341.8,299.6 344.6,306.3 346.9,314.3 348.6,319.9 351.4,324.4 M381.9,275.8 392.1,275.8 403.4,274.1 410.2,275.8 M391.5,267.9 397.8,266.8 403.4,269.0 405.1,274.1 M410.2,275.8 413.6,278.1 415.9,284.9 417.5,292.8 413.0,298.4 415.9,304.1 419.2,307.5 424.9,302.4 M419.2,307.5 421.5,314.3 423.8,318.8 M388.7,250.9 395.5,248.7 403.4,249.2 411.3,247.6 413.6,245.3 M410.2,275.8 419.2,276.9 421.5,275.8 M407.9,231.7 410.8,229.5 M300.5,287.1 307.3,288.8 M178.3,261.3 179.5,266.2 182.0,268.1 184.5,266.8 185.7,269.3 188.2,271.2 191.9,273.1 M133.3,416.9 137.8,415.8 141.2,420.3 146.9,422.6 152.5,422.6 157.1,428.3 151.4,431.6 148.0,433.9 146.9,439.6 144.6,445.2 143.5,449.7 139.0,450.9 140.1,456.5 142.4,461.0 140.1,465.6 141.2,470.1 136.7,472.3 133.3,476.5 M203.4,414.1 204.5,416.9 211.3,420.3 219.2,423.7 224.9,424.9 230.6,429.4 237.3,431.6 243.0,430.5 246.4,431.6 M252.0,326.5 258.8,332.2 265.6,335.5 273.4,342.3 M183.6,517.4 186.5,521.9 185.3,527.6 185.9,534.3 184.8,540.0 186.5,545.6 187.6,549.6 M141.2,466.5 139.0,469.9 135.0,473.3 134.5,477.2 M287.7,416.0 289.4,412.6 283.8,410.3 281.5,405.8 283.8,401.3 280.4,397.9 282.6,391.1 283.2,390.0 M283.2,390.0 281.5,386.6 274.7,385.5 278.1,379.8 282.6,373.0 287.7,369.1 M287.7,369.1 297.3,366.2 303.0,368.5 306.9,370.8 M306.9,370.8 307.5,375.3 309.8,377.6 M283.2,390.0 290.5,388.9 295.1,384.3 300.7,390.0 305.2,384.3 309.8,385.5 313.1,380.9 309.8,377.6 M309.8,377.6 316.5,377.6 323.3,375.9 329.0,375.3 331.2,378.7 340.3,382.1 M306.9,370.8 312.0,372.5 317.7,370.8 326.7,368.5 335.8,368.5 336.9,365.1 334.6,361.7 339.1,356.1 M339.1,356.1 335.8,351.5 331.2,344.8 330.1,338.0 327.8,334.6 335.8,330.1 344.8,325.0 M344.8,325.0 351.6,326.7 359.5,327.8 362.9,333.5 368.5,331.2 374.2,333.5 381.0,338.0 383.2,339.7 M339.1,356.1 344.8,353.8 351.6,349.9 359.5,350.4 368.0,350.4 M368.0,350.4 374.2,345.9 379.8,341.4 383.2,339.7 M383.2,339.7 387.8,339.1 392.3,343.1 399.1,339.1 405.9,338.0 413.8,339.7 M413.8,339.7 416.0,331.2 420.6,323.3 423.9,318.8 422.8,316.5 M413.8,339.7 412.6,349.3 M368.0,350.4 369.7,356.1 369.1,361.7 M369.1,361.7 376.5,362.9 383.2,360.0 387.8,356.1 396.8,352.7 404.7,349.3 412.6,349.3 M369.1,361.7 365.2,366.2 366.8,373.0 364.6,377.6 M340.3,382.1 349.3,382.1 356.1,379.2 364.6,377.6 M364.6,377.6 368.5,382.1 375.3,386.6 383.2,387.7 390.0,384.3 M412.6,349.3 418.3,352.7 M418.3,352.7 414.9,359.5 411.5,369.6 408.1,377.6 400.2,382.1 M390.0,384.3 394.5,383.2 400.2,382.1 M418.3,352.7 425.1,352.7 434.1,352.1 438.1,353.8 M340.3,382.1 341.4,386.6 342.5,391.1 M342.5,394.5 347.1,393.4 351.6,394.5 357.2,392.2 359.5,386.6 362.9,382.1 364.6,377.6 M361.8,397.9 367.4,395.6 375.3,395.6 383.2,395.6 390.0,396.8 M361.8,397.9 365.2,405.8 370.8,412.6 376.5,417.1 382.1,421.6 387.8,426.2 M390.0,384.3 391.2,391.1 390.0,396.8 M390.0,396.8 393.4,402.4 395.7,409.2 393.4,416.0 390.0,420.5 M390.0,420.5 387.8,426.2 M400.2,382.1 405.9,388.9 411.5,394.5 418.3,396.8 423.9,399.0 M423.9,399.0 426.2,405.8 429.6,412.6 426.2,420.5 427.3,426.2 M423.9,399.0 429.6,405.8 437.5,404.7 446.6,403.6 M390.0,420.5 396.8,418.3 404.7,422.8 402.5,426.2 M402.5,426.2 399.1,429.6 398.5,435.2 M402.5,426.2 407.0,429.6 410.4,430.7 M404.7,422.8 409.2,421.1 413.8,425.0 416.0,428.4 M410.4,430.7 416.0,428.4 427.3,426.2 433.0,430.7 434.1,436.3 426.2,440.9 420.6,444.3 413.8,444.3 410.4,438.6 410.4,430.7 M413.8,444.3 415.5,449.9 412.6,456.7 409.2,463.5 M434.1,436.3 442.0,434.1 449.9,432.9 454.5,435.2 M326.2,551.1 327.3,557.3 325.1,561.8 318.3,564.6 M474.3,549.9 473.7,558.4 475.4,566.3 474.3,574.3 M251.3,322.1 253.1,326.2 256.7,328.9 261.2,333.4 264.9,337.0 268.5,336.1 272.1,341.6 274.8,343.8 M261.2,318.1 268.5,318.1 273.0,319.9 277.5,324.4 M289.3,292.7 288.4,298.2 285.7,305.4 286.6,309.9 279.3,314.4 280.2,319.9 277.5,324.4 M277.5,324.4 280.2,329.8 278.4,335.2 276.6,338.9 M276.6,338.9 274.8,343.8 279.3,344.3 280.2,340.7 276.6,338.9 M279.3,344.3 284.8,347.9 290.2,348.8 295.6,351.5 292.0,356.9 290.2,363.3 288.4,368.7 M298.3,283.7 301.9,284.6 305.6,289.1 309.2,293.6 M282.7,194.6 288.9,193.8 294.3,192.3 M284.2,207.0 290.4,204.6 M283.5,217.8 287.3,219.3 M286.6,186.1 291.2,187.7" fill="none" stroke="#5a5a5a" stroke-width="2.6" stroke-linejoin="round" stroke-linecap="round" vector-effect="non-scaling-stroke"/></g>
<clipPath id="pclip"><rect x="0" y="0" width="498.8" height="600.2"/></clipPath>
<linearGradient id="vbar" x1="0" y1="1" x2="0" y2="0">
<stop offset="0.0" stop-color="#440154"/>
<stop offset="0.1" stop-color="#482475"/>
<stop offset="0.2" stop-color="#414487"/>
<stop offset="0.3" stop-color="#355f8d"/>
<stop offset="0.4" stop-color="#2a788e"/>
<stop offset="0.5" stop-color="#21918c"/>
<stop offset="0.6" stop-color="#22a884"/>
<stop offset="0.7" stop-color="#44bf70"/>
<stop offset="0.8" stop-color="#7ad151"/>
<stop offset="0.9" stop-color="#bddf26"/>
<stop offset="1.0" stop-color="#fde725"/>
</linearGradient>
<clipPath id="study"><polygon points="168.6,186.5 152.5,195.5 136.7,211.4 120.9,228.3 112.4,238.5 110.7,249.8 107.3,272.4 101.7,304.1 96.9,331.5 92.1,360.4 88.7,389.8 89.2,398.9 98.3,437.3 106.0,470.5 110.7,483.5 116.4,489.1 124.3,493.6 132.2,496.5 141.2,499.3 146.9,499.3 153.4,496.5 173.4,471.5 193.4,446.5 233.4,416.5 273.4,386.5 333.4,306.5 340.7,286.5 340.7,264.5 343.4,248.5 333.4,216.5 323.4,186.5 338.4,126.5 333.4,108.0 313.4,115.6"/></clipPath><filter id="bk" filterUnits="userSpaceOnUse" x="-60" y="-60" width="620" height="720" color-interpolation-filters="sRGB"><feTurbulence type="fractalNoise" baseFrequency="0.11" numOctaves="3" seed="3" result="n"/><feColorMatrix in="n" type="matrix" values="0 0 0 0 0 0 0 0 0 0 0 0 0 0 0 1.7 0 0 0 -0.35" result="na"/><feGaussianBlur in="SourceAlpha" stdDeviation="1.8" result="m"/><feComposite in="na" in2="m" operator="arithmetic" k1="0" k2="1" k3="1" k4="-0.5" result="s"/><feComponentTransfer in="s" result="t"><feFuncA type="linear" slope="40" intercept="-21.20"/></feComponentTransfer><feFlood flood-color="#000" result="c"/><feComposite in="c" in2="t" operator="in"/></filter><filter id="bk2" filterUnits="userSpaceOnUse" x="-60" y="-60" width="620" height="720" color-interpolation-filters="sRGB"><feTurbulence type="fractalNoise" baseFrequency="0.07" numOctaves="3" seed="11" result="n"/><feColorMatrix in="n" type="matrix" values="0 0 0 0 0 0 0 0 0 0 0 0 0 0 0 3.5 0 0 0 -1.25" result="na"/><feGaussianBlur in="SourceAlpha" stdDeviation="5" result="m"/><feComposite in="na" in2="m" operator="arithmetic" k1="0" k2="1" k3="1" k4="-0.5" result="s"/><feComponentTransfer in="s" result="t"><feFuncA type="linear" slope="40" intercept="-21.20"/></feComponentTransfer><feFlood flood-color="#000" result="c"/><feComposite in="c" in2="t" operator="in"/></filter><filter id="bk3" filterUnits="userSpaceOnUse" x="-60" y="-60" width="620" height="720" color-interpolation-filters="sRGB"><feTurbulence type="fractalNoise" baseFrequency="0.16" numOctaves="3" seed="5" result="n"/><feColorMatrix in="n" type="matrix" values="0 0 0 0 0 0 0 0 0 0 0 0 0 0 0 1.5 0 0 0 -0.25" result="na"/><feGaussianBlur in="SourceAlpha" stdDeviation="0.9" result="m"/><feComposite in="na" in2="m" operator="arithmetic" k1="0" k2="1" k3="1" k4="-0.5" result="s"/><feComponentTransfer in="s" result="t"><feFuncA type="linear" slope="40" intercept="-21.20"/></feComponentTransfer><feFlood flood-color="#000" result="c"/><feComposite in="c" in2="t" operator="in"/></filter><filter id="yl" filterUnits="userSpaceOnUse" x="-60" y="-60" width="620" height="720" color-interpolation-filters="sRGB"><feTurbulence type="fractalNoise" baseFrequency="0.12" numOctaves="3" seed="8" result="n"/><feColorMatrix in="n" type="matrix" values="0 0 0 0 0 0 0 0 0 0 0 0 0 0 0 2.2 0 0 0 -0.6000000000000001" result="na"/><feGaussianBlur in="SourceAlpha" stdDeviation="3" result="m"/><feComposite in="na" in2="m" operator="arithmetic" k1="0" k2="1" k3="1" k4="-0.5" result="s"/><feComponentTransfer in="s" result="t"><feFuncA type="linear" slope="40" intercept="-21.20"/></feComponentTransfer><feFlood flood-color="#fde725" result="c"/><feComposite in="c" in2="t" operator="in"/></filter><filter id="gn" filterUnits="userSpaceOnUse" x="-60" y="-60" width="620" height="720" color-interpolation-filters="sRGB"><feTurbulence type="fractalNoise" baseFrequency="0.1" numOctaves="3" seed="21" result="n"/><feColorMatrix in="n" type="matrix" values="0 0 0 0 0 0 0 0 0 0 0 0 0 0 0 3 0 0 0 -1.0" result="na"/><feGaussianBlur in="SourceAlpha" stdDeviation="3" result="m"/><feComposite in="na" in2="m" operator="arithmetic" k1="0" k2="1" k3="1" k4="-0.5" result="s"/><feComponentTransfer in="s" result="t"><feFuncA type="linear" slope="40" intercept="-21.20"/></feComponentTransfer><feFlood flood-color="#7ad151" result="c"/><feComposite in="c" in2="t" operator="in"/></filter><filter id="bl1_2" filterUnits="userSpaceOnUse" x="-60" y="-60" width="620" height="720" color-interpolation-filters="sRGB"><feGaussianBlur stdDeviation="1.2"/></filter><filter id="bl1_4" filterUnits="userSpaceOnUse" x="-60" y="-60" width="620" height="720" color-interpolation-filters="sRGB"><feGaussianBlur stdDeviation="1.4"/></filter><filter id="bl1_5" filterUnits="userSpaceOnUse" x="-60" y="-60" width="620" height="720" color-interpolation-filters="sRGB"><feGaussianBlur stdDeviation="1.5"/></filter><filter id="bl1_6" filterUnits="userSpaceOnUse" x="-60" y="-60" width="620" height="720" color-interpolation-filters="sRGB"><feGaussianBlur stdDeviation="1.6"/></filter><filter id="bl2" filterUnits="userSpaceOnUse" x="-60" y="-60" width="620" height="720" color-interpolation-filters="sRGB"><feGaussianBlur stdDeviation="2"/></filter><filter id="bl2_5" filterUnits="userSpaceOnUse" x="-60" y="-60" width="620" height="720" color-interpolation-filters="sRGB"><feGaussianBlur stdDeviation="2.5"/></filter><filter id="bl3" filterUnits="userSpaceOnUse" x="-60" y="-60" width="620" height="720" color-interpolation-filters="sRGB"><feGaussianBlur stdDeviation="3"/></filter><filter id="bl4" filterUnits="userSpaceOnUse" x="-60" y="-60" width="620" height="720" color-interpolation-filters="sRGB"><feGaussianBlur stdDeviation="4"/></filter><filter id="bl4_5" filterUnits="userSpaceOnUse" x="-60" y="-60" width="620" height="720" color-interpolation-filters="sRGB"><feGaussianBlur stdDeviation="4.5"/></filter><filter id="bl5" filterUnits="userSpaceOnUse" x="-60" y="-60" width="620" height="720" color-interpolation-filters="sRGB"><feGaussianBlur stdDeviation="5"/></filter><filter id="bl6" filterUnits="userSpaceOnUse" x="-60" y="-60" width="620" height="720" color-interpolation-filters="sRGB"><feGaussianBlur stdDeviation="6"/></filter><filter id="bl7" filterUnits="userSpaceOnUse" x="-60" y="-60" width="620" height="720" color-interpolation-filters="sRGB"><feGaussianBlur stdDeviation="7"/></filter><filter id="bl8" filterUnits="userSpaceOnUse" x="-60" y="-60" width="620" height="720" color-interpolation-filters="sRGB"><feGaussianBlur stdDeviation="8"/></filter><filter id="bl9" filterUnits="userSpaceOnUse" x="-60" y="-60" width="620" height="720" color-interpolation-filters="sRGB"><feGaussianBlur stdDeviation="9"/></filter><filter id="bl10" filterUnits="userSpaceOnUse" x="-60" y="-60" width="620" height="720" color-interpolation-filters="sRGB"><feGaussianBlur stdDeviation="10"/></filter><filter id="bl12" filterUnits="userSpaceOnUse" x="-60" y="-60" width="620" height="720" color-interpolation-filters="sRGB"><feGaussianBlur stdDeviation="12"/></filter><filter id="bl13" filterUnits="userSpaceOnUse" x="-60" y="-60" width="620" height="720" color-interpolation-filters="sRGB"><feGaussianBlur stdDeviation="13"/></filter><filter id="bl14" filterUnits="userSpaceOnUse" x="-60" y="-60" width="620" height="720" color-interpolation-filters="sRGB"><feGaussianBlur stdDeviation="14"/></filter><filter id="bl16" filterUnits="userSpaceOnUse" x="-60" y="-60" width="620" height="720" color-interpolation-filters="sRGB"><feGaussianBlur stdDeviation="16"/></filter><filter id="bl20" filterUnits="userSpaceOnUse" x="-60" y="-60" width="620" height="720" color-interpolation-filters="sRGB"><feGaussianBlur stdDeviation="20"/></filter><filter id="bl22" filterUnits="userSpaceOnUse" x="-60" y="-60" width="620" height="720" color-interpolation-filters="sRGB"><feGaussianBlur stdDeviation="22"/></filter><filter id="bl24" filterUnits="userSpaceOnUse" x="-60" y="-60" width="620" height="720" color-interpolation-filters="sRGB"><feGaussianBlur stdDeviation="24"/></filter>
</defs>
<rect width="2135" height="2500" fill="#fff"/>
<g transform="translate(426.6,113.5) scale(1.00000,1.00000)"><g clip-path="url(#pclip)"><rect width="498.8" height="600.2" fill="#eff7fe"/><use href="#grat"/><g clip-path="url(#study)"><rect x="0" y="0" width="500" height="601" fill="#440154"/><polyline points="213.4,148.5 197.4,206.5 185.4,266.5 173.4,316.5 165.4,356.5 173.4,386.5 148.4,426.5 118.4,476.5" fill="none" stroke="#3e4c8a" stroke-width="105" stroke-linecap="round" stroke-linejoin="round" filter="url(#bl24)" opacity="1"/><polyline points="118.4,406.5 111.4,461.5 118.4,486.5 143.4,498.5" fill="none" stroke="#2f6b8e" stroke-width="40" stroke-linecap="round" stroke-linejoin="round" filter="url(#bl12)" opacity="1"/><polyline points="211.4,154.5 197.4,206.5 185.4,266.5 176.4,311.5 166.4,351.5 183.4,386.5" fill="none" stroke="#26828e" stroke-width="66" stroke-linecap="round" stroke-linejoin="round" filter="url(#bl16)" opacity="1"/><polyline points="133.4,301.5 158.4,326.5 168.4,356.5" fill="none" stroke="#2a788e" stroke-width="60" stroke-linecap="round" stroke-linejoin="round" filter="url(#bl20)" opacity="1"/><polyline points="203.4,182.5 194.4,216.5 185.9,256.5" fill="none" stroke="#35b779" stroke-width="26" stroke-linecap="round" stroke-linejoin="round" filter="url(#bl9)" opacity="1"/><polyline points="183.4,296.5 173.4,331.5 163.4,356.5" fill="none" stroke="#1fa187" stroke-width="34" stroke-linecap="round" stroke-linejoin="round" filter="url(#bl12)" opacity="1"/><polyline points="180.4,374.5 195.4,394.5" fill="none" stroke="#23a983" stroke-width="16" stroke-linecap="round" stroke-linejoin="round" filter="url(#bl7)" opacity="1"/><ellipse cx="194.8" cy="212.5" rx="7.5" ry="22" transform="rotate(16 194.8 212.5)" fill="#fde725" filter="url(#bl6)" opacity="1"/><ellipse cx="206.2" cy="278.5" rx="6" ry="10" transform="rotate(0 206.2 278.5)" fill="#31688e" filter="url(#bl4)" opacity="1"/><polyline points="110.4,446.5 106.4,476.5 118.4,490.5 145.4,498.5" fill="none" stroke="#26828e" stroke-width="14" stroke-linecap="round" stroke-linejoin="round" filter="url(#bl5)" opacity="1"/><polygon points="225.4,148.5 338.4,101.5 348.4,276.5 278.4,331.5 241.4,322.5 237.4,286.5 228.4,231.5 217.4,204.5" fill="#440154" filter="url(#bl8)" opacity="1"/><polygon points="201.4,334.5 243.4,322.5 241.4,330.5 223.4,342.5 209.4,344.5" fill="#440154" filter="url(#bl5)" opacity="0.9"/><polygon points="149.4,412.5 173.4,401.5 197.4,410.5 173.4,416.5" fill="#45207a" filter="url(#bl6)" opacity="1"/><polygon points="98.4,216.5 143.4,186.5 163.4,186.5 133.4,246.5 108.4,306.5 93.4,356.5 78.4,356.5" fill="#440154" filter="url(#bl14)" opacity="0.8"/><g filter="url(#bk3)"><polygon points="192.5,173.4 199.3,172.6 201.8,181.8 199.3,183.5"/><polygon points="129.2,491.9 137.6,492.8 139.3,497.8 132.5,496.1"/></g></g><use href="#land"/></g></g>
<rect x="426.6" y="113.5" width="498.8" height="600.2" fill="none" stroke="#000" stroke-width="3.3"/>
<g transform="translate(961.6,113.5) scale(0.99980,1.00000)"><g clip-path="url(#pclip)"><rect width="498.8" height="600.2" fill="#eff7fe"/><use href="#grat"/><g clip-path="url(#study)"><rect x="0" y="0" width="500" height="601" fill="#440154"/><polyline points="205.4,176.5 188.4,226.5 173.4,276.5 153.4,316.5 145.4,356.5 163.4,386.5 128.4,426.5 118.4,466.5" fill="none" stroke="#3b528b" stroke-width="100" stroke-linecap="round" stroke-linejoin="round" filter="url(#bl22)" opacity="1"/><polyline points="201.4,186.5 185.4,236.5 173.4,286.5 158.4,316.5 148.4,351.5 173.4,386.5" fill="none" stroke="#26828e" stroke-width="54" stroke-linecap="round" stroke-linejoin="round" filter="url(#bl14)" opacity="1"/><ellipse cx="131.4" cy="298.5" rx="16" ry="24" transform="rotate(0 131.4 298.5)" fill="#1f9e89" filter="url(#bl10)" opacity="1"/><ellipse cx="176.4" cy="310.5" rx="15" ry="10" transform="rotate(0 176.4 310.5)" fill="#35b779" filter="url(#bl8)" opacity="1"/><polyline points="118.4,406.5 109.4,461.5 118.4,486.5 143.4,498.5" fill="none" stroke="#2f6b8e" stroke-width="30" stroke-linecap="round" stroke-linejoin="round" filter="url(#bl10)" opacity="1"/><polyline points="217.5,174.3 240.2,169.8 251.5,167.6" fill="none" stroke="#3b528b" stroke-width="8" stroke-linecap="round" stroke-linejoin="round" filter="url(#bl5)" opacity="1"/><polygon points="225.4,148.5 338.4,101.5 348.4,276.5 278.4,331.5 241.4,322.5 237.4,286.5 228.4,231.5 217.4,204.5" fill="#440154" filter="url(#bl8)" opacity="1"/><polygon points="201.4,334.5 243.4,322.5 241.4,330.5 223.4,342.5 209.4,344.5" fill="#440154" filter="url(#bl5)" opacity="0.9"/><polygon points="149.4,412.5 173.4,401.5 197.4,410.5 173.4,416.5" fill="#45207a" filter="url(#bl6)" opacity="1"/><polygon points="98.4,216.5 143.4,186.5 163.4,186.5 133.4,246.5 108.4,306.5 93.4,356.5 78.4,356.5" fill="#440154" filter="url(#bl14)" opacity="0.8"/><polyline points="110.8,253.5 104.1,332.4 101.2,390.8 115.2,463.8" fill="none" stroke="#3b528b" stroke-width="46" stroke-linecap="round" stroke-linejoin="round" filter="url(#bl13)" opacity="1"/><polyline points="122.5,274.0 126.9,317.8 135.7,361.6 126.9,405.4" fill="none" stroke="#26828e" stroke-width="46" stroke-linecap="round" stroke-linejoin="round" filter="url(#bl14)" opacity="1"/><ellipse cx="176.6" cy="307.5" rx="16" ry="10" transform="rotate(0 176.6 307.5)" fill="#3dbc74" filter="url(#bl7)" opacity="1"/><ellipse cx="131.3" cy="298.8" rx="10" ry="15" transform="rotate(0 131.3 298.8)" fill="#35b779" filter="url(#bl7)" opacity="1"/><polyline points="126.9,335.3 156.1,358.6 179.5,382.0 193.5,405.4" fill="none" stroke="#4ac16d" stroke-width="30" stroke-linecap="round" stroke-linejoin="round" filter="url(#bl8)" opacity="1"/><polyline points="210.8,178.9 197.2,196.9 188.1,219.6 185.9,242.2 183.6,252.3" fill="none" stroke="#4ec36b" stroke-width="20" stroke-linecap="round" stroke-linejoin="round" filter="url(#bl6)" opacity="1"/><polyline points="130.8,335.9 152.5,357.7 170.3,371.5 190.1,393.3" fill="none" stroke="#35b779" stroke-width="24" stroke-linecap="round" stroke-linejoin="round" filter="url(#bl7)" opacity="1"/><polyline points="122.9,294.3 130.8,302.3 138.7,296.3" fill="none" stroke="#35b779" stroke-width="5" stroke-linecap="round" stroke-linejoin="round" filter="url(#bl3)" opacity="1"/><polyline points="131.3,338.2 157.6,361.6 178.9,382.6" fill="none" stroke="#a5db36" stroke-width="15" stroke-linecap="round" stroke-linejoin="round" filter="url(#bl4)" opacity="1"/><polyline points="208.5,185.6 192.7,202.6 187.0,224.1 185.9,236.5" fill="none" stroke="#a5db36" stroke-width="10" stroke-linecap="round" stroke-linejoin="round" filter="url(#bl4)" opacity="1"/><g filter="url(#yl)"><polygon points="202.8,185.6 213.0,181.7 215.8,187.9 210.8,195.3 205.1,193.6"/><polygon points="181.9,198.6 189.3,194.1 202.3,193.0 206.8,200.3 204.0,207.7 195.5,209.9 192.1,214.5 183.1,213.3 178.5,207.1"/><polygon points="180.8,219.6 191.0,216.7 194.4,225.8 185.9,230.3"/><polygon points="181.9,230.3 191.0,228.0 193.2,240.5 183.6,245.0 179.7,236.5"/><polygon points="132.2,340.5 144.4,337.6 162.0,353.4 175.4,370.3 181.8,382.6 174.2,381.4 157.6,369.5 141.5,357.8"/></g><polyline points="176.0,377.6 185.3,390.8 191.2,403.0" fill="none" stroke="#d8e219" stroke-width="4" stroke-linecap="round" stroke-linejoin="round" filter="url(#bl1_2)" opacity="1"/><g filter="url(#bk)"><polygon points="210.8,165.3 267.3,139.3 267.3,154.0 261.6,156.2 258.2,151.7 251.5,156.2 253.7,160.8 245.8,165.3 246.9,158.5 240.2,160.8 236.8,167.6 235.6,174.3 228.8,176.6 224.3,169.8 222.1,165.3 217.5,166.4"/><polygon points="267.3,139.3 314.8,115.5 315.9,118.9 296.7,129.1 289.3,134.8 287.1,143.8 285.9,154.0 285.4,166.4 282.0,167.0 282.5,151.7 284.2,135.9 267.3,146.1"/><polyline points="321.6,117.8 319.3,129.1 314.8,140.4 308.0,151.7 298.9,163.0 288.8,169.8" fill="none" stroke="#000" stroke-width="3.2" stroke-linecap="round" stroke-linejoin="round"/><polyline points="197.2,173.8 200.6,180.0 201.7,190.2 206.2,199.2 211.9,202.6 217.5,198.1 226.6,191.3 234.5,186.8 245.8,180.0 257.1,176.6 268.4,173.2 279.7,169.8 288.8,168.7" fill="none" stroke="#000" stroke-width="4.2" stroke-linecap="round" stroke-linejoin="round"/><polygon points="191.5,213.9 194.9,210.5 201.7,206.0 204.0,202.6 203.4,208.3 197.2,212.8 192.7,215.3"/><polyline points="287.6,249.0 296.7,244.4 305.7,239.9 310.2,236.5" fill="none" stroke="#000" stroke-width="3" stroke-linecap="round" stroke-linejoin="round"/><polyline points="275.2,191.3 276.3,202.6" fill="none" stroke="#000" stroke-width="1.6" stroke-linecap="round" stroke-linejoin="round"/><polygon points="187.9,193.0 191.5,191.1 192.1,193.0 188.7,194.7"/><polygon points="239.9,236.5 242.6,236.3 243.0,239.0 240.2,239.3"/></g><g filter="url(#bk2)"><polygon points="89.2,393.3 97.1,396.2 105.1,413.0 108.0,424.9 118.9,432.8 115.9,446.7 105.1,452.6 109.0,470.4 119.9,482.3 132.8,492.2 143.6,501.1 138.7,500.1 109.0,484.3 101.1,452.6 93.2,417.0"/><polygon points="114.0,347.8 119.9,348.8 120.9,355.7 114.9,355.7"/><polygon points="97.1,383.4 103.1,382.4 103.1,388.3 98.1,388.3"/><polygon points="118.9,379.4 123.9,379.4 123.9,384.4 118.9,384.4"/><polygon points="133.7,383.4 139.7,383.4 139.7,388.3 133.7,388.3"/><polygon points="151.5,377.4 157.5,377.4 157.5,382.4 151.5,382.4"/><polygon points="110.0,266.6 115.9,264.7 116.9,270.6 111.0,271.6"/></g></g><use href="#land"/></g></g>
<rect x="961.6" y="113.5" width="498.7" height="600.2" fill="none" stroke="#000" stroke-width="3.3"/>
<g transform="translate(155.6,999.7) scale(1.00481,1.00616)"><g clip-path="url(#pclip)"><rect width="498.8" height="600.2" fill="#eff7fe"/><use href="#grat"/><g clip-path="url(#study)"><rect x="0" y="0" width="500" height="601" fill="#440154"/><polyline points="115.0,295.2 125.1,316.8 143.9,334.1 165.5,355.7 187.1,377.3 198.6,398.8 194.3,407.5" fill="none" stroke="#4a4490" stroke-width="10" stroke-linecap="round" stroke-linejoin="round" filter="url(#bl4_5)" opacity="1"/><polyline points="136.7,398.1 165.5,404.6 194.3,408.9" fill="none" stroke="#3d5a92" stroke-width="9" stroke-linecap="round" stroke-linejoin="round" filter="url(#bl3)" opacity="1"/><polygon points="105.0,397.4 126.6,404.6 126.6,420.4 120.8,434.8 115.0,443.5 107.8,456.4 102.1,431.9 103.5,413.2" fill="#34629a" filter="url(#bl5)" opacity="1"/><polygon points="93.4,345.6 109.3,345.6 122.3,362.9 139.5,384.5 126.6,398.8 100.6,391.6 90.5,377.3" fill="#463c88" filter="url(#bl9)" opacity="1"/><g filter="url(#bk)"><polygon points="157.4,193.6 308.6,118.1 299.2,128.7 290.9,136.9 287.3,146.4 286.2,160.5 281.4,172.3 269.6,177.1 257.8,181.8 247.2,190.0 235.4,194.8 225.9,198.3 214.1,203.0 204.6,205.4 199.9,193.6 192.8,195.9 183.4,203.0 172.7,203.0 171.6,195.9"/><polygon points="303.9,119.2 320.4,113.3 321.6,125.1 314.5,141.7 308.6,153.5 306.2,148.7 311.0,134.6 311.0,125.1"/><polyline points="169.2,203.0 173.9,207.7 183.4,208.9 195.2,210.1 189.3,213.6 178.6,212.4" fill="none" stroke="#000" stroke-width="3.2" stroke-linecap="round" stroke-linejoin="round"/><polyline points="175.1,217.2 175.7,225.4 176.5,234.9" fill="none" stroke="#000" stroke-width="2.6" stroke-linecap="round" stroke-linejoin="round"/><polyline points="151.5,203.0 155.0,210.1 157.4,217.2" fill="none" stroke="#000" stroke-width="2.6" stroke-linecap="round" stroke-linejoin="round"/><polygon points="163.3,217.2 168.0,217.8 168.6,221.3 163.9,220.7"/><polygon points="140.8,237.2 155.0,235.5 160.3,247.8 151.5,249.6 143.2,243.1"/><polygon points="158.6,253.7 166.8,249.6 167.4,252.0 159.7,256.1"/></g><g filter="url(#bk3)"><polyline points="274.3,193.6 273.2,207.7 269.6,219.5 273.2,231.3 281.4,238.4 290.9,243.1 302.7,240.8 307.4,237.2" fill="none" stroke="#000" stroke-width="3.2" stroke-linecap="round" stroke-linejoin="round"/><polyline points="169.2,203.0 173.9,207.7 183.4,208.9 195.2,210.1 189.3,213.6 178.6,212.4" fill="none" stroke="#000" stroke-width="3.4" stroke-linecap="round" stroke-linejoin="round"/><polyline points="175.1,217.2 175.7,225.4 176.5,234.9" fill="none" stroke="#000" stroke-width="2.8" stroke-linecap="round" stroke-linejoin="round"/><polyline points="151.5,203.0 155.0,210.1 157.4,217.2" fill="none" stroke="#000" stroke-width="2.8" stroke-linecap="round" stroke-linejoin="round"/></g><polygon points="199.9,172.3 223.5,171.2 216.5,184.1 204.6,190.0 197.6,183.0" fill="#440154" filter="url(#bl2)" opacity="1"/><polygon points="273.2,159.4 281.4,155.8 280.3,165.3 272.0,168.8" fill="#440154" filter="url(#bl1_5)" opacity="1"/><g filter="url(#bk2)"><polygon points="112.2,237.7 120.8,240.5 122.3,254.9 116.5,266.4 115.0,280.8 106.4,286.6 107.8,305.3 110.7,319.7 106.4,334.1 107.8,341.3 96.3,341.3 102.1,305.3 107.8,262.1"/><polygon points="96.3,341.3 107.8,341.3 119.4,341.3 126.6,348.5 136.7,362.9 148.2,362.9 156.8,370.1 158.3,381.6 151.1,384.5 142.4,385.9 136.7,377.3 128.0,370.1 122.3,362.9 115.0,355.7 107.8,352.8 100.6,348.5"/><polygon points="102.1,351.4 115.0,362.9 112.9,372.2 105.0,368.6"/><polygon points="112.2,377.3 126.6,381.6 122.3,393.1 107.8,390.2"/><polygon points="88.4,390.2 93.4,387.3 97.8,398.8 103.5,404.6 105.0,417.6 113.6,423.3 117.9,427.6 116.5,439.1 112.2,444.9 105.0,446.3 110.7,455.0 115.0,466.5 112.2,476.6 122.3,479.4 130.9,482.3 142.4,494.5 122.3,489.5 109.3,480.9 102.1,456.4 93.4,420.4"/><polygon points="141.0,237.7 154.0,236.2 159.7,246.3 152.5,247.7 143.9,243.4"/><polygon points="159.7,254.9 165.5,252.1 166.2,254.9 161.2,257.1"/><polygon points="128.0,260.7 135.2,257.8 135.9,260.7 129.5,262.8"/></g></g><use href="#land"/></g></g>
<rect x="155.6" y="999.7" width="501.2" height="603.9" fill="none" stroke="#000" stroke-width="3.3"/>
<g transform="translate(692.8,999.7) scale(1.00561,1.00616)"><g clip-path="url(#pclip)"><rect width="498.8" height="600.2" fill="#eff7fe"/><use href="#grat"/><g clip-path="url(#study)"><rect x="0" y="0" width="500" height="601" fill="#440154"/><polyline points="101.2,301.1 107.2,361.5 119.3,421.9 123.4,482.4" fill="none" stroke="#3b528b" stroke-width="90" stroke-linecap="round" stroke-linejoin="round" filter="url(#bl22)" opacity="1"/><polyline points="127.4,361.5 157.6,381.7 191.9,389.7" fill="none" stroke="#42448a" stroke-width="50" stroke-linecap="round" stroke-linejoin="round" filter="url(#bl14)" opacity="1"/><polyline points="95.1,331.3 97.1,381.7 107.2,442.1 117.3,478.3" fill="none" stroke="#2c728e" stroke-width="26" stroke-linecap="round" stroke-linejoin="round" filter="url(#bl9)" opacity="1"/><polyline points="114.3,438.1 118.3,458.2 120.3,474.3" fill="none" stroke="#26ad81" stroke-width="5" stroke-linecap="round" stroke-linejoin="round" filter="url(#bl2_5)" opacity="1"/><polyline points="133.4,395.8 163.7,401.8 198.0,405.8" fill="none" stroke="#440154" stroke-width="9" stroke-linecap="round" stroke-linejoin="round" filter="url(#bl3)" opacity="1"/><g filter="url(#bk3)"><polygon points="196.0,173.2 200.0,174.6 202.4,182.3 199.0,181.3"/><polygon points="133.4,499.5 143.5,500.5 145.5,506.5 137.5,504.5"/></g></g><use href="#land"/></g></g>
<rect x="692.8" y="999.7" width="501.6" height="603.9" fill="none" stroke="#000" stroke-width="3.3"/>
<g transform="translate(1230.2,999.7) scale(1.00541,1.00616)"><g clip-path="url(#pclip)"><rect width="498.8" height="600.2" fill="#eff7fe"/><use href="#grat"/><g clip-path="url(#study)"><rect x="0" y="0" width="500" height="601" fill="#440154"/><polyline points="110.9,260.8 104.8,341.4 100.8,401.8 112.9,472.3" fill="none" stroke="#404688" stroke-width="80" stroke-linecap="round" stroke-linejoin="round" filter="url(#bl20)" opacity="1"/><polyline points="112.9,321.2 147.2,361.5 183.5,381.7 195.6,401.8" fill="none" stroke="#3b528b" stroke-width="22" stroke-linecap="round" stroke-linejoin="round" filter="url(#bl8)" opacity="1"/><polyline points="98.7,361.5 100.8,401.8 108.8,432.0 116.9,458.2" fill="none" stroke="#2f6c8e" stroke-width="24" stroke-linecap="round" stroke-linejoin="round" filter="url(#bl8)" opacity="1"/><polyline points="107.8,426.0 114.9,446.1" fill="none" stroke="#25858e" stroke-width="8" stroke-linecap="round" stroke-linejoin="round" filter="url(#bl3)" opacity="1"/><polyline points="133.0,395.8 163.3,401.8 197.6,405.8" fill="none" stroke="#440154" stroke-width="8" stroke-linecap="round" stroke-linejoin="round" filter="url(#bl3)" opacity="1"/><polygon points="205.6,180.3 219.8,174.2 225.8,182.3 215.7,190.3 207.7,192.3" fill="#472b7a" filter="url(#bl3)" opacity="1"/><g filter="url(#bk)"><polygon points="195.6,174.2 322.6,113.8 319.6,121.8 285.3,135.9 270.2,143.0 233.9,166.2 225.8,170.2 207.7,178.2"/><polyline points="205.6,198.4 219.8,194.4 235.9,186.3 258.1,178.2 280.3,170.2 284.3,160.1 285.3,135.9" fill="none" stroke="#000" stroke-width="4" stroke-linecap="round" stroke-linejoin="round"/><polyline points="322.6,115.8 316.6,140.0 308.5,150.0" fill="none" stroke="#000" stroke-width="4" stroke-linecap="round" stroke-linejoin="round"/><polyline points="276.2,196.4 276.2,212.5 282.3,230.6 292.4,238.7 308.5,238.7 296.4,246.7" fill="none" stroke="#000" stroke-width="3.2" stroke-linecap="round" stroke-linejoin="round"/><polygon points="133.0,499.5 143.1,500.5 145.1,506.5 137.1,504.5"/></g></g><use href="#land"/></g></g>
<rect x="1230.2" y="999.7" width="501.5" height="603.9" fill="none" stroke="#000" stroke-width="3.3"/>
<g transform="translate(667.2,1824.0) scale(1.10826,1.10846)"><g clip-path="url(#pclip)"><rect width="498.8" height="600.2" fill="#eff7fe"/><use href="#grat"/><g clip-path="url(#study)"><rect x="0" y="0" width="500" height="601" fill="#440154"/><polygon points="100.9,173.4 336.2,101.8 328.0,177.4 291.2,210.2 274.8,251.1 225.7,279.7 184.8,259.3 152.0,279.7 137.7,337.0 96.8,341.1" fill="#3e4a89" filter="url(#bl20)" opacity="0.8"/><polyline points="131.6,222.5 172.5,193.8 223.6,165.2" fill="none" stroke="#3b5a8c" stroke-width="60" stroke-linecap="round" stroke-linejoin="round" filter="url(#bl16)" opacity="0.9"/><polyline points="158.2,210.2 184.8,195.9 205.2,187.7" fill="none" stroke="#31688e" stroke-width="26" stroke-linecap="round" stroke-linejoin="round" filter="url(#bl10)" opacity="1"/><ellipse cx="244.1" cy="232.7" rx="30" ry="30" transform="rotate(0 244.1 232.7)" fill="#365d8d" filter="url(#bl12)" opacity="1"/><ellipse cx="244.1" cy="232.3" rx="13" ry="13" transform="rotate(0 244.1 232.3)" fill="#26828e" filter="url(#bl7)" opacity="1"/><polyline points="114.2,259.3 121.3,300.2 129.5,318.6" fill="none" stroke="#3b5a8c" stroke-width="20" stroke-linecap="round" stroke-linejoin="round" filter="url(#bl8)" opacity="1"/><polyline points="204.2,183.6 205.2,197.9 213.4,202.0 233.9,191.8 254.3,179.5" fill="none" stroke="#2db27d" stroke-width="2.2" stroke-linecap="round" stroke-linejoin="round" filter="url(#bl1_4)" opacity="1"/><polyline points="178.6,198.9 187.8,194.2 193.0,209.2 198.1,206.1" fill="none" stroke="#37b878" stroke-width="2.4" stroke-linecap="round" stroke-linejoin="round" filter="url(#bl1_6)" opacity="1"/><polyline points="213.4,165.2 221.6,167.2 223.6,175.4" fill="none" stroke="#2db27d" stroke-width="2" stroke-linecap="round" stroke-linejoin="round" filter="url(#bl1_4)" opacity="1"/><polygon points="180.7,326.8 274.8,296.1 295.3,320.6 213.4,361.6 182.7,361.6" fill="#440154" filter="url(#bl14)" opacity="0.9"/><g filter="url(#bk3)"><polygon points="192.5,174.4 201.1,172.9 203.6,184.0 199.1,185.6 197.0,179.5"/><polygon points="131.6,502.7 139.8,503.7 141.8,508.8 135.7,507.8"/></g></g><use href="#land"/></g></g>
<rect x="667.2" y="1824.0" width="552.8" height="665.3" fill="none" stroke="#000" stroke-width="3.3"/>
<rect x="426.6" y="9.85" width="498.8" height="101.2" fill="#d9d9d9" stroke="#000" stroke-width="3.3"/>
<text x="676.0" y="79.0" font-size="53.0" text-anchor="middle" fill="#1a1a1a">Summer/Autumn</text>
<rect x="961.6" y="9.85" width="498.7" height="101.2" fill="#d9d9d9" stroke="#000" stroke-width="3.3"/>
<text x="1211.0" y="79.0" font-size="53.0" text-anchor="middle" fill="#1a1a1a">Winter/Spring</text>
<rect x="155.6" y="896.3" width="501.2" height="101.0" fill="#d9d9d9" stroke="#000" stroke-width="3.3"/>
<text x="406.2" y="965.4" font-size="53.0" text-anchor="middle" fill="#1a1a1a">Spring</text>
<rect x="692.8" y="896.3" width="501.6" height="101.0" fill="#d9d9d9" stroke="#000" stroke-width="3.3"/>
<text x="943.6" y="965.4" font-size="53.0" text-anchor="middle" fill="#1a1a1a">Summer</text>
<rect x="1230.2" y="896.3" width="501.5" height="101.0" fill="#d9d9d9" stroke="#000" stroke-width="3.3"/>
<text x="1481.0" y="965.4" font-size="53.0" text-anchor="middle" fill="#1a1a1a">Autumn</text>
<rect x="667.2" y="1720.8" width="552.8" height="100.8" fill="#d9d9d9" stroke="#000" stroke-width="3.3"/>
<text x="943.6" y="1789.8" font-size="53.0" text-anchor="middle" fill="#1a1a1a">Summer</text>
<rect x="1463.3" y="113.8" width="100.9" height="599.9" fill="#d9d9d9" stroke="#000" stroke-width="3.3"/>
<text transform="translate(1495.2,413.8) rotate(90)" font-size="53.0" text-anchor="middle" fill="#1a1a1a">a/ GRAGRI</text>
<rect x="1734.6" y="1000.0" width="101.4" height="603.6" fill="#d9d9d9" stroke="#000" stroke-width="3.3"/>
<text transform="translate(1766.7,1301.8) rotate(90)" font-size="53.0" text-anchor="middle" fill="#1a1a1a">b/ STECOE</text>
<rect x="1223.4" y="1824.3" width="100.5" height="665.0" fill="#d9d9d9" stroke="#000" stroke-width="3.3"/>
<text transform="translate(1255.1,2156.8) rotate(90)" font-size="53.0" text-anchor="middle" fill="#1a1a1a">c/ LAGSPP</text>
<rect x="408.6" y="189.8" width="16.4" height="6.4" fill="#333"/>
<text x="395.5" y="211.8" font-size="53.6" text-anchor="end" fill="#4d4d4d">60°N</text>
<rect x="408.6" y="359.3" width="16.4" height="6.4" fill="#333"/>
<text x="395.5" y="381.3" font-size="53.6" text-anchor="end" fill="#4d4d4d">50°N</text>
<rect x="408.6" y="505.6" width="16.4" height="6.4" fill="#333"/>
<text x="395.5" y="527.6" font-size="53.6" text-anchor="end" fill="#4d4d4d">40°N</text>
<rect x="408.6" y="643.7" width="16.4" height="6.4" fill="#333"/>
<text x="395.5" y="665.7" font-size="53.6" text-anchor="end" fill="#4d4d4d">30°N</text>
<rect x="137.6" y="1076.5" width="16.4" height="6.4" fill="#333"/>
<text x="124.5" y="1098.5" font-size="53.6" text-anchor="end" fill="#4d4d4d">60°N</text>
<rect x="137.6" y="1247.0" width="16.4" height="6.4" fill="#333"/>
<text x="124.5" y="1269.0" font-size="53.6" text-anchor="end" fill="#4d4d4d">50°N</text>
<rect x="137.6" y="1394.2" width="16.4" height="6.4" fill="#333"/>
<text x="124.5" y="1416.2" font-size="53.6" text-anchor="end" fill="#4d4d4d">40°N</text>
<rect x="137.6" y="1533.2" width="16.4" height="6.4" fill="#333"/>
<text x="124.5" y="1555.2" font-size="53.6" text-anchor="end" fill="#4d4d4d">30°N</text>
<rect x="649.2" y="1908.9" width="16.4" height="6.4" fill="#333"/>
<text x="636.1" y="1930.9" font-size="53.6" text-anchor="end" fill="#4d4d4d">60°N</text>
<rect x="649.2" y="2096.8" width="16.4" height="6.4" fill="#333"/>
<text x="636.1" y="2118.8" font-size="53.6" text-anchor="end" fill="#4d4d4d">50°N</text>
<rect x="649.2" y="2259.0" width="16.4" height="6.4" fill="#333"/>
<text x="636.1" y="2281.0" font-size="53.6" text-anchor="end" fill="#4d4d4d">40°N</text>
<rect x="649.2" y="2412.1" width="16.4" height="6.4" fill="#333"/>
<text x="636.1" y="2434.1" font-size="53.6" text-anchor="end" fill="#4d4d4d">30°N</text>
<rect x="619.8" y="715.3" width="6.4" height="16.6" fill="#333"/>
<text x="629.8" y="784" font-size="53.6" text-anchor="middle" fill="#4d4d4d">0°</text>
<rect x="847.1" y="715.3" width="6.4" height="16.6" fill="#333"/>
<text x="850.3" y="784" font-size="53.6" text-anchor="middle" fill="#4d4d4d">20°E</text>
<rect x="1154.8" y="715.3" width="6.4" height="16.6" fill="#333"/>
<text x="1164.8" y="784" font-size="53.6" text-anchor="middle" fill="#4d4d4d">0°</text>
<rect x="1382.1" y="715.3" width="6.4" height="16.6" fill="#333"/>
<text x="1385.3" y="784" font-size="53.6" text-anchor="middle" fill="#4d4d4d">20°E</text>
<text x="1666.0" y="263.7" font-size="48.2" fill="#000">Density</text>
<text x="1666.0" y="316.3" font-size="48.2" fill="#000">(ind/km²)</text>
<rect x="1665" y="346.5" width="51.3" height="255.7" fill="url(#vbar)"/>
<rect x="1665" y="346.1" width="10.2" height="1.8" fill="#fff"/><rect x="1706.1" y="346.1" width="10.2" height="1.8" fill="#fff"/>
<text x="1742" y="362.0" font-size="35.2" fill="#000">0.020</text>
<rect x="1665" y="380.6" width="10.2" height="1.8" fill="#fff"/><rect x="1706.1" y="380.6" width="10.2" height="1.8" fill="#fff"/>
<text x="1742" y="393.5" font-size="35.2" fill="#000">0.015</text>
<rect x="1665" y="420.9" width="10.2" height="1.8" fill="#fff"/><rect x="1706.1" y="420.9" width="10.2" height="1.8" fill="#fff"/>
<text x="1742" y="433.8" font-size="35.2" fill="#000">0.010</text>
<rect x="1665" y="473.6" width="10.2" height="1.8" fill="#fff"/><rect x="1706.1" y="473.6" width="10.2" height="1.8" fill="#fff"/>
<text x="1742" y="486.5" font-size="35.2" fill="#000">0.005</text>
<rect x="1665" y="600.8" width="10.2" height="1.8" fill="#fff"/><rect x="1706.1" y="600.8" width="10.2" height="1.8" fill="#fff"/>
<text x="1742" y="608.0" font-size="35.2" fill="#000">0.000</text>
<text x="1937.8" y="1153.7" font-size="48.2" fill="#000">Density</text>
<text x="1937.8" y="1204.6" font-size="48.2" fill="#000">(ind/km²)</text>
<rect x="1936.7" y="1235.1" width="51.3" height="254.1" fill="url(#vbar)"/>
<rect x="1936.7" y="1250.6" width="10.2" height="1.8" fill="#fff"/><rect x="1977.8" y="1250.6" width="10.2" height="1.8" fill="#fff"/>
<text x="2013.2" y="1265.0" font-size="35.2" fill="#000">4</text>
<rect x="1936.7" y="1283.1" width="10.2" height="1.8" fill="#fff"/><rect x="1977.8" y="1283.1" width="10.2" height="1.8" fill="#fff"/>
<text x="2013.2" y="1297.7" font-size="35.2" fill="#000">3</text>
<rect x="1936.7" y="1321.2" width="10.2" height="1.8" fill="#fff"/><rect x="1977.8" y="1321.2" width="10.2" height="1.8" fill="#fff"/>
<text x="2013.2" y="1335.8" font-size="35.2" fill="#000">2</text>
<rect x="1936.7" y="1370.1" width="10.2" height="1.8" fill="#fff"/><rect x="1977.8" y="1370.1" width="10.2" height="1.8" fill="#fff"/>
<text x="2013.2" y="1385.0" font-size="35.2" fill="#000">1</text>
<rect x="1936.7" y="1487.8" width="10.2" height="1.8" fill="#fff"/><rect x="1977.8" y="1487.8" width="10.2" height="1.8" fill="#fff"/>
<text x="2013.2" y="1503.2" font-size="35.2" fill="#000">0</text>
<text x="1425.3" y="2008.7" font-size="48.2" fill="#000">Density</text>
<text x="1425.3" y="2060.8" font-size="48.2" fill="#000">(ind/km²)</text>
<rect x="1424.6" y="2090.1" width="51.3" height="254.6" fill="url(#vbar)"/>
<rect x="1424.6" y="2102.7" width="10.2" height="1.8" fill="#fff"/><rect x="1465.7" y="2102.7" width="10.2" height="1.8" fill="#fff"/>
<text x="1501" y="2117.0" font-size="35.2" fill="#000">0.8</text>
<rect x="1424.6" y="2135.3" width="10.2" height="1.8" fill="#fff"/><rect x="1465.7" y="2135.3" width="10.2" height="1.8" fill="#fff"/>
<text x="1501" y="2149.0" font-size="35.2" fill="#000">0.6</text>
<rect x="1424.6" y="2172.9" width="10.2" height="1.8" fill="#fff"/><rect x="1465.7" y="2172.9" width="10.2" height="1.8" fill="#fff"/>
<text x="1501" y="2186.0" font-size="35.2" fill="#000">0.4</text>
<rect x="1424.6" y="2223.5" width="10.2" height="1.8" fill="#fff"/><rect x="1465.7" y="2223.5" width="10.2" height="1.8" fill="#fff"/>
<text x="1501" y="2237.5" font-size="35.2" fill="#000">0.2</text>
<rect x="1424.6" y="2343.3" width="10.2" height="1.8" fill="#fff"/><rect x="1465.7" y="2343.3" width="10.2" height="1.8" fill="#fff"/>
<text x="1501" y="2358.0" font-size="35.2" fill="#000">0.0</text>
</svg></body></html>
